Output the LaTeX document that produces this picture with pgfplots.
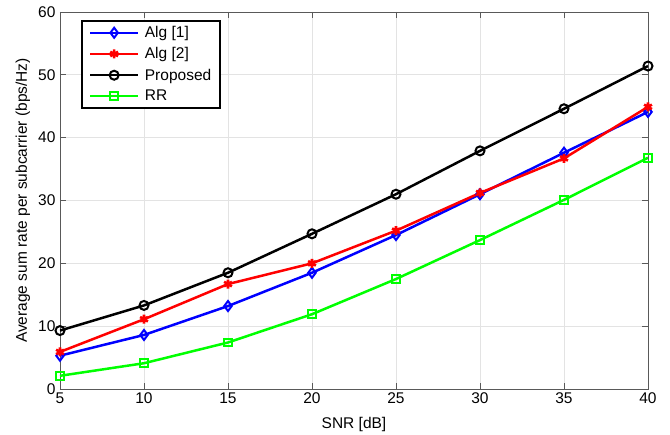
\documentclass[border=0pt]{standalone}
\usepackage{pgfplots}
\pgfplotsset{compat=1.18}
\usepackage{fontspec}
\setmainfont{Liberation Sans}
\begin{document}
\begin{tikzpicture}
\path[use as bounding box] (-60pt,-46pt) rectangle (610pt,389pt);
\begin{axis}[
  at={(0,0)}, anchor=south west,
  scale only axis,
  width=588pt, height=377pt,
  xmin=5, xmax=40, ymin=0, ymax=60,
  xtick={5,10,...,40}, ytick={0,10,...,60},
  grid=major,
  major grid style={gray!22, line width=0.7pt},
  tick align=inside,
  tick pos=both,
  major tick length=6pt,
  axis line style={black!65, line width=0.7pt},
  tick style={black!65, line width=0.7pt},
  /pgf/number format/assume math mode=true,
  tick label style={font=\fontsize{15.5}{18}\selectfont},
  yticklabel style={xshift=-1pt},
  label style={font=\fontsize{15.5}{18}\selectfont},
  xlabel={SNR [dB]},
  xlabel style={at={(axis description cs:0.5,-0.093)}, anchor=center},
  ylabel={Average sum rate per subcarrier (bps/Hz)},
  ylabel style={at={(axis description cs:-0.063,0.5)}, anchor=center},
  legend style={at={(21pt,369pt)}, anchor=north west, draw=black, line width=1.8pt,
    font=\fontsize{15.5}{18}\selectfont, inner xsep=7pt, inner ysep=3.5pt,
    row sep=4.5pt,
    /tikz/every odd column/.append style={column sep=3.5pt}},
  legend cell align=left,
  legend image code/.code={
    \draw[#1, line width=2.5pt, mark repeat=2, mark phase=2] plot coordinates {(0pt,0pt) (24pt,0pt) (48pt,0pt)};},
  every axis plot/.append style={line width=2.5pt, mark options={solid, line width=2pt}},
]
\addplot[blue, mark=diamond, mark size=5pt] coordinates {(5,5.3) (10,8.6) (15,13.2) (20,18.5) (25,24.5) (30,31.0) (35,37.6) (40,44.1)};
\addlegendentry{Alg [1]}
\addplot[red, mark=asterisk, mark size=4.5pt, mark options={solid, line width=2.6pt}] coordinates {(5,5.9) (10,11.1) (15,16.7) (20,20.0) (25,25.2) (30,31.2) (35,36.7) (40,44.9)};
\addlegendentry{Alg [2]}
\addplot[black, mark=o, mark size=4.5pt] coordinates {(5,9.3) (10,13.3) (15,18.5) (20,24.7) (25,31.0) (30,37.9) (35,44.6) (40,51.4)};
\addlegendentry{Proposed}
\addplot[green, mark=square, mark size=3.8pt] coordinates {(5,2.1) (10,4.1) (15,7.4) (20,11.9) (25,17.5) (30,23.7) (35,30.1) (40,36.8)};
\addlegendentry{RR}
\end{axis}
\end{tikzpicture}
\end{document}
